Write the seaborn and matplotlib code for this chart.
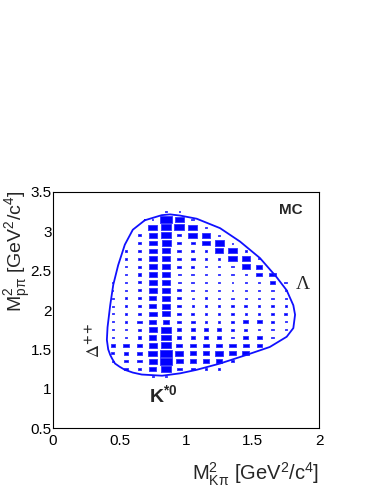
import pandas as pd
import matplotlib
matplotlib.use("Agg")
import matplotlib.pyplot as plt
import seaborn as sns
from matplotlib.path import Path
from matplotlib.ticker import MultipleLocator

# bin centres of the Dalitz histogram (GeV^2/c^4)
m2_kpi = [0.45, 0.55, 0.65, 0.75, 0.85, 0.95, 1.05, 1.15, 1.25, 1.35, 1.45, 1.55, 1.65, 1.75]
m2_ppi = [3.25, 3.15, 3.05, 2.95, 2.85, 2.75, 2.65, 2.55, 2.45, 2.35, 2.25,
          2.15, 2.05, 1.95, 1.85, 1.75, 1.65, 1.55, 1.45, 1.35, 1.25, 1.15]

# box side relative to the cell side, one row per m2_ppi bin
box_size = [
    [0, 0, 0, 0, .12, .12, 0, 0, 0, 0, 0, 0, 0, 0],
    [0, 0, 0, .1, 1.0, .68, .2, 0, 0, 0, 0, 0, 0, 0],
    [0, 0, 0, .7, .82, .82, .68, .15, 0, 0, 0, 0, 0, 0],
    [0, 0, .3, .65, .78, .33, .68, .62, .15, 0, 0, 0, 0, 0],
    [0, 0, .3, .65, .72, .3, .3, .58, .72, .15, 0, 0, 0, 0],
    [0, .15, .3, .65, .68, .3, .25, .18, .68, .68, .15, 0, 0, 0],
    [0, .2, .3, .65, .68, .3, .3, .18, .18, .68, .68, .15, 0, 0],
    [0, .2, .3, .62, .68, .3, .28, .18, .18, .2, .68, .52, 0, 0],
    [0, .2, .3, .62, .65, .2, .2, .18, .18, .18, .2, .5, .5, 0],
    [.1, .2, .28, .62, .65, .2, .2, .15, .15, .15, .15, .2, .38, .25],
    [.1, .2, .3, .62, .65, .3, .2, .15, .15, .15, .15, .2, .2, .2],
    [.12, .2, .3, .6, .68, .33, .18, .2, .18, .18, .18, .18, .18, .18],
    [.15, .2, .22, .6, .68, .33, .18, .18, .18, .18, .25, .18, .18, .2],
    [.15, .2, .3, .65, .68, .33, .2, .18, .18, .18, .2, .18, .25, .22],
    [.15, .2, .35, .6, .5, .33, .33, .2, .2, .25, .42, .38, .25, .15],
    [.15, .2, .3, .62, .82, .33, .33, .33, .33, .25, .25, .2, .2, .15],
    [.15, .2, .3, .6, .8, .33, .33, .33, .3, .25, .38, .38, .25, 0],
    [.3, .48, .36, .65, .8, .5, .5, .5, .5, .5, .5, .38, 0, 0],
    [.25, .35, .38, .7, .95, .65, .5, .55, .68, .5, .55, 0, 0, 0],
    [.15, .35, .35, .65, .95, .55, .5, .48, .45, .2, 0, 0, 0, 0],
    [0, .3, .25, .6, .85, .38, .33, .2, .15, 0, 0, 0, 0, 0],
    [0, 0, 0, .12, .15, 0, 0, 0, 0, 0, 0, 0, 0, 0],
]

# kinematic boundary
edge_kpi = [0.69, 0.817, 0.88, 0.955, 1.08, 1.256, 1.406, 1.556, 1.68, 1.757, 1.807,
            1.82, 1.807, 1.757, 1.63, 1.456, 1.256, 1.08, 0.955, 0.82, 0.667, 0.60,
            0.54, 0.50, 0.466, 0.445, 0.43, 0.415, 0.405, 0.41, 0.43, 0.453, 0.49,
            0.54, 0.60, 0.69]
edge_ppi = [3.14, 3.205, 3.215, 3.20, 3.16, 3.04, 2.87, 2.66, 2.42, 2.25, 2.06,
            1.94, 1.77, 1.66, 1.53, 1.43, 1.32, 1.24, 1.195, 1.165, 1.18, 1.205,
            1.24, 1.28, 1.32, 1.38, 1.43, 1.50, 1.62, 1.78, 2.06, 2.32, 2.57,
            2.83, 3.02, 3.14]

xticks = [0, 0.5, 1, 1.5, 2]
xtick_labels = ["0", "0.5", "1", "1.5", "2"]
yticks = [0.5, 1, 1.5, 2, 2.5, 3, 3.5]
ytick_labels = ["0.5", "1", "1.5", "2", "2.5", "3", "3.5"]

sns.set_style("white")
plt.rcParams["font.family"] = ["Liberation Sans", "DejaVu Sans"]
plt.rcParams["mathtext.fontset"] = "custom"
plt.rcParams["mathtext.rm"] = "Liberation Sans"
plt.rcParams["mathtext.it"] = "Liberation Sans:italic"
plt.rcParams["mathtext.bf"] = "Liberation Sans:bold"

rows = []
for y, row in zip(m2_ppi, box_size):
    for x, v in zip(m2_kpi, row):
        if v > 0:
            rows.append((x, y, v))
df = pd.DataFrame(rows, columns=["kpi", "ppi", "size"])
df["area"] = df["size"] ** 2

# rectangle marker with the aspect of one histogram cell
box = Path([(-0.5, -0.296), (0.5, -0.296), (0.5, 0.296), (-0.5, 0.296), (-0.5, -0.296)])

fig = plt.figure(figsize=(3.83, 4.96), dpi=100)
ax = fig.add_axes([0.1384, 0.137, 0.6945, 0.476])

sns.scatterplot(data=df, x="kpi", y="ppi", size="area", sizes=(0, 80), size_norm=(0, 1),
                marker=box, color="#0000ff", edgecolor="#3030ff", linewidth=0.6,
                legend=False, ax=ax)
ax.plot(edge_kpi, edge_ppi, color="#1010ff", lw=1.3)

ax.set_xlim(0, 2)
ax.set_ylim(0.5, 3.5)
ax.set_xticks(xticks, xtick_labels)
ax.set_yticks(yticks, ytick_labels)
ax.xaxis.set_minor_locator(MultipleLocator(0.1))
ax.yaxis.set_minor_locator(MultipleLocator(0.1))
ax.tick_params(which="both", direction="in", top=False, right=False, labelsize=11, colors="black")
ax.tick_params(which="major", length=5, width=0.7)
ax.tick_params(which="minor", length=2.5, width=0.7)
ax.tick_params(axis="y", pad=1)
ax.tick_params(axis="x", pad=4)
for s in ax.spines.values():
    s.set_color("black")
    s.set_linewidth(0.8)

ax.set_xlabel(r"$\mathrm{M^{2}_{K\pi}}$ [GeV$^{2}$/c$^{4}$]", loc="right", fontsize=14.5, labelpad=9)
ylab = ax.set_ylabel(r"$\mathrm{M^{2}_{p\pi}}$ [GeV$^{2}$/c$^{4}$]", fontsize=14)
ax.yaxis.set_label_coords(-0.19, 1.008)
ylab.set_rotation_mode("anchor")
ylab.set_ha("right")
ylab.set_va("top")

ax.text(1.79, 3.27, "MC", fontsize=11, fontweight="bold", ha="center", va="center")
ax.text(1.88, 2.33, "Λ", fontsize=14, family="Liberation Serif", ha="center", va="center")
ax.text(0.316, 1.62, r"$\Delta^{\mathbf{++}}$", fontsize=13, math_fontfamily="stix",
        rotation=90, ha="center", va="center")
ax.text(0.827, 0.92, r"$\mathbf{K^{*0}}$", fontsize=14, ha="center", va="center")

fig.savefig("out.png", dpi=100)
